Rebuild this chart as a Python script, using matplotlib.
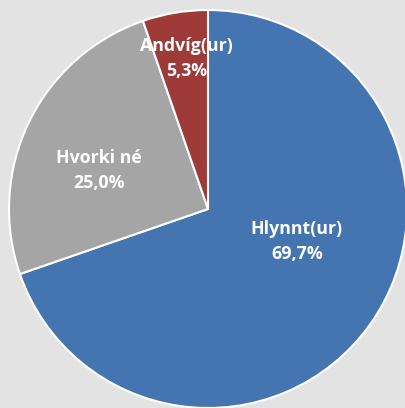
import matplotlib
matplotlib.use("Agg")
import matplotlib.pyplot as plt
import numpy as np

categories = ["Hlynnt(ur)", "Hvorki né", "Andvíg(ur)"]
values = [69.7, 25.0, 5.3]
colors = ["#4575b0", "#a5a5a5", "#9e3a38"]
# label placement (angle in degrees, distance as fraction of radius)
label_angles = [-19.8, 160.5, 98.0]
label_dist = [0.475, 0.58, 0.765]

fig = plt.figure(figsize=(4.06, 4.08), dpi=100)
fig.patch.set_facecolor("#e3e3e3")
ax = fig.add_axes([9/406, 0.0, 398/406, 398/408])
ax.set_facecolor("#e3e3e3")
wedges, _ = ax.pie(values, colors=colors, startangle=90, counterclock=False,
                   radius=1.0, wedgeprops=dict(edgecolor="white", linewidth=1.5))
ax.set_xlim(-1.0, 1.0)
ax.set_ylim(-1.0, 1.0)
ax.axis("off")

for cat, v, a, d in zip(categories, values, label_angles, label_dist):
    x = d * np.cos(np.radians(a))
    y = d * np.sin(np.radians(a))
    txt = f"{cat}\n{v:.1f}%".replace(".", ",")
    ax.text(x, y, txt, ha="center", va="center", color="white",
            fontsize=12.8, fontweight="bold", family="Open Sans", linespacing=1.5)

fig.savefig("out.png", dpi=100, facecolor=fig.get_facecolor())
